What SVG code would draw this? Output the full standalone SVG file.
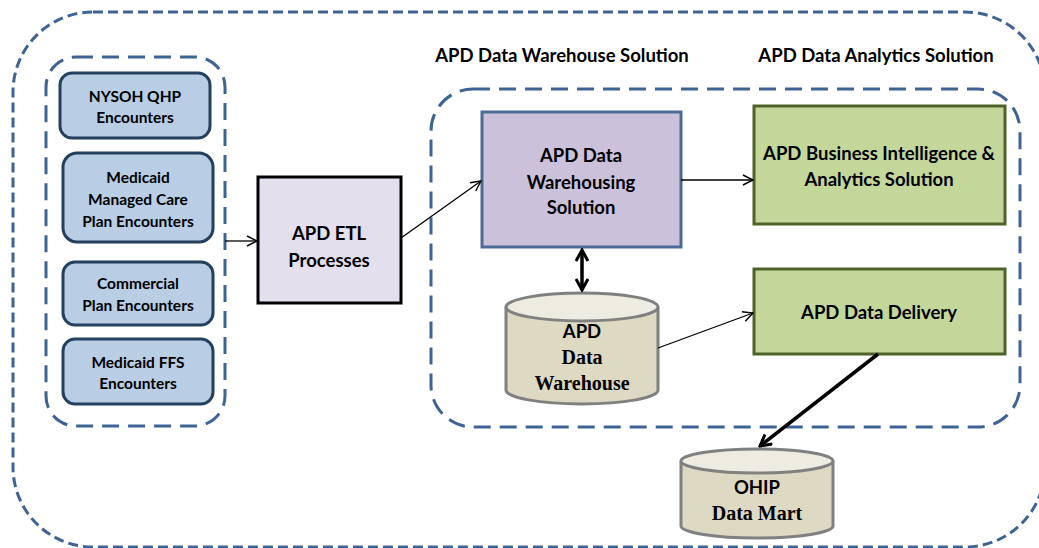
<svg xmlns="http://www.w3.org/2000/svg" width="1039" height="548" viewBox="0 0 1039 548">
<defs>
<style>
.grp{fill:none;stroke:#3d6494;stroke-width:3}
.outer{stroke-dasharray:10 5}
.inner{stroke-dasharray:17 9}
.src{fill:#b9cde5;stroke:#23405f;stroke-width:3}
.t{font-family:Lato,"Liberation Sans",sans-serif;font-weight:bold;fill:#000;text-anchor:middle}
.tt{font-family:"Liberation Serif","Times New Roman",serif;font-weight:bold;fill:#000;text-anchor:middle}
.s14{font-size:15.5px}
.s17{font-size:18.5px}
.s16{font-size:18.5px}
.cyl{fill:#ddd9c3;stroke:#808080;stroke-width:3}
.cyltop{fill:#eeece1;stroke:#808080;stroke-width:3}
.green{fill:#c4d79b;stroke:#4f6228;stroke-width:3}
.thin{stroke:#000;stroke-width:1.3;fill:none}
.thick{stroke:#000;stroke-width:3.5;fill:none}
</style>
<marker id="ah" viewBox="0 0 12 12" refX="11" refY="6" markerWidth="12" markerHeight="12" markerUnits="userSpaceOnUse" orient="auto">
<path d="M1,1 L11,6 L1,11" fill="none" stroke="#000" stroke-width="1.4"/>
</marker>
<marker id="ahb" viewBox="0 0 14 14" refX="12" refY="7" markerWidth="14" markerHeight="14" markerUnits="userSpaceOnUse" orient="auto-start-reverse">
<path d="M1,1 L12,7 L1,13" fill="none" stroke="#000" stroke-width="3"/>
</marker>
</defs>

<g id="outer-group">
<rect class="grp outer" x="13" y="12" width="1032" height="535" rx="80" ry="80"/>
</g>
<g id="sources-group">
<rect class="grp inner" x="46" y="57" width="179" height="369" rx="30" ry="30"/>
</g>
<g id="dw-group">
<rect class="grp inner" x="431" y="89" width="589" height="338" rx="42" ry="42"/>
</g>

<g id="label-dw">
<text class="t s17" x="562" y="62">APD Data Warehouse Solution</text>
</g>
<g id="label-da">
<text class="t s17" x="876" y="62">APD Data Analytics Solution</text>
</g>

<g id="nysoh">
<rect class="src" x="60" y="73" width="150" height="65" rx="12" ry="12"/>
<text class="t s14" x="135" y="102">NYSOH QHP</text>
<text class="t s14" x="135" y="123">Encounters</text>
</g>
<g id="mmc">
<rect class="src" x="63" y="153" width="150" height="89" rx="14" ry="14"/>
<text class="t s14" x="138" y="183">Medicaid</text>
<text class="t s14" x="138" y="205">Managed Care</text>
<text class="t s14" x="138" y="227">Plan Encounters</text>
</g>
<g id="commercial">
<rect class="src" x="63" y="262" width="150" height="63" rx="12" ry="12"/>
<text class="t s14" x="138" y="289">Commercial</text>
<text class="t s14" x="138" y="311">Plan Encounters</text>
</g>
<g id="ffs">
<rect class="src" x="63" y="339" width="150" height="65" rx="12" ry="12"/>
<text class="t s14" x="138" y="368">Medicaid FFS</text>
<text class="t s14" x="138" y="389">Encounters</text>
</g>

<g id="etl">
<rect x="258" y="177" width="143" height="126" fill="#e4dfec" stroke="#000" stroke-width="3"/>
<text class="t s17" x="329" y="240">APD ETL</text>
<text class="t s17" x="329" y="267">Processes</text>
</g>

<g id="dw-solution">
<rect x="482" y="112" width="199" height="135" fill="#ccc1da" stroke="#4a6b98" stroke-width="3"/>
<text class="t s17" x="581" y="162">APD Data</text>
<text class="t s17" x="581" y="189">Warehousing</text>
<text class="t s17" x="581" y="214">Solution</text>
</g>

<g id="bi">
<rect class="green" x="754" y="106" width="251" height="118"/>
<text class="t s16" x="879" y="160">APD Business Intelligence &amp;</text>
<text class="t s16" x="879" y="186">Analytics Solution</text>
</g>

<g id="delivery">
<rect class="green" x="754" y="269" width="251" height="85"/>
<text class="t s16" x="879" y="319">APD Data Delivery</text>
</g>

<g id="dw-db">
<path class="cyl" d="M506,307 L506,390 A76,14 0 0 0 658,390 L658,307"/>
<ellipse class="cyltop" cx="582" cy="307" rx="76" ry="14"/>
<text class="t s17" x="582" y="338">APD</text>
<text class="tt" font-size="20" x="582" y="364">Data</text>
<text class="tt" font-size="20" x="582" y="390">Warehouse</text>
</g>

<g id="ohip">
<path class="cyl" d="M681,461 L681,526 A76,12 0 0 0 833,526 L833,461"/>
<ellipse class="cyltop" cx="757" cy="461" rx="76" ry="12"/>
<text class="t s17" x="757" y="494">OHIP</text>
<text class="tt" font-size="20" x="757" y="520">Data Mart</text>
</g>

<g id="connectors">
<line class="thin" x1="225" y1="241" x2="257" y2="241" marker-end="url(#ah)"/>
<line class="thin" x1="401" y1="238" x2="481" y2="181" marker-end="url(#ah)"/>
<line class="thin" x1="681" y1="180" x2="753" y2="180" marker-end="url(#ah)"/>
<line class="thin" x1="658" y1="348" x2="753" y2="313" marker-end="url(#ah)"/>
<line class="thick" x1="582" y1="250" x2="582" y2="290" marker-start="url(#ahb)" marker-end="url(#ahb)"/>
<line class="thick" x1="878" y1="354" x2="760" y2="446" marker-end="url(#ahb)"/>
</g>
</svg>
